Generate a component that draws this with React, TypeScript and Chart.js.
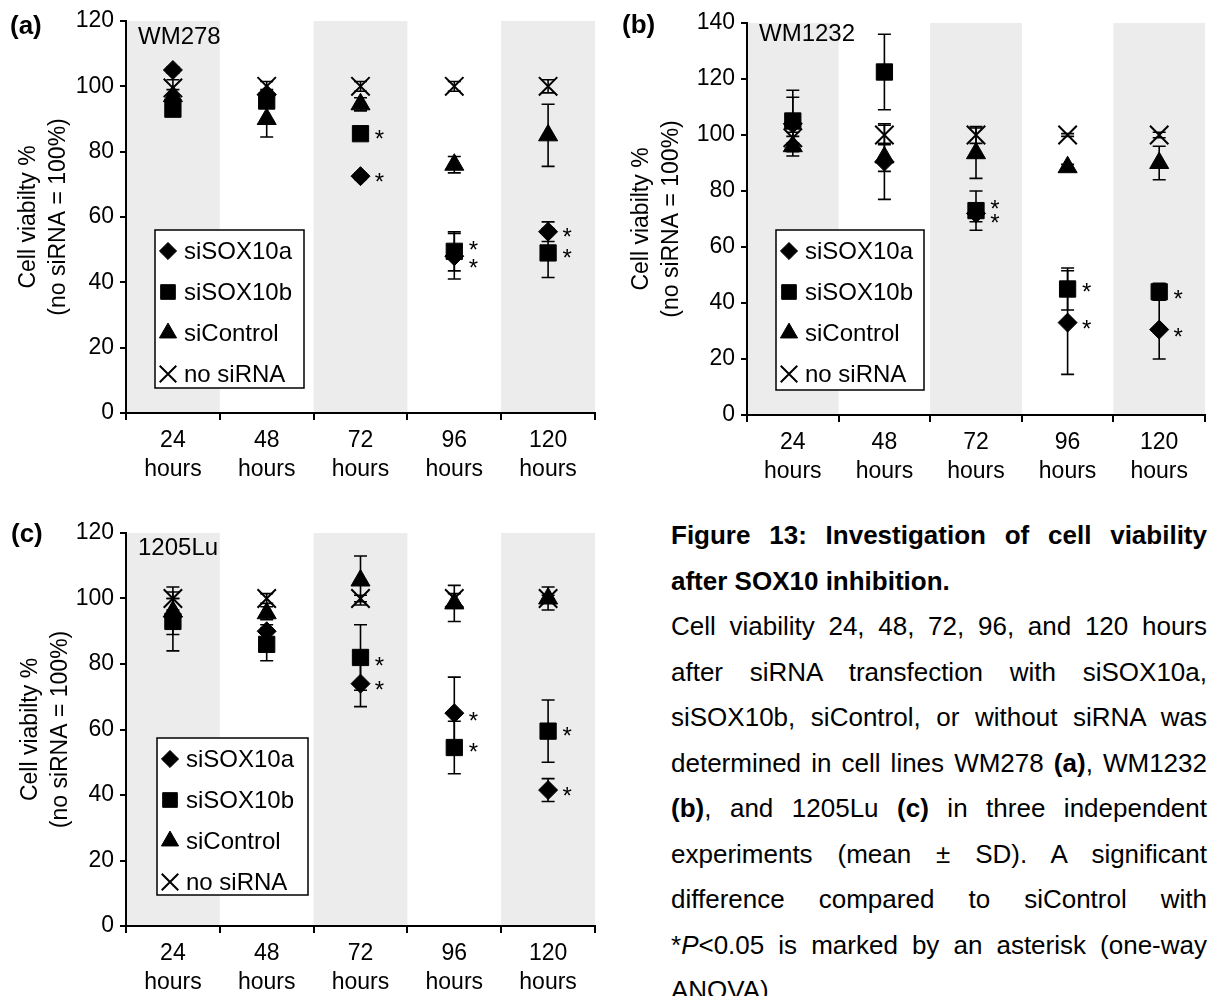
import React, { useEffect, useRef } from 'react';
import { Chart, registerables } from 'chart.js';
import { drawPoint } from 'chart.js/helpers';

Chart.register(...registerables);

const FONT = "'Liberation Sans', Arial, Helvetica, sans-serif";

// ---------- data ----------
const timeLabels = [['24', 'hours'], ['48', 'hours'], ['72', 'hours'], ['96', 'hours'], ['120', 'hours']];
const seriesNames = ['siSOX10a', 'siSOX10b', 'siControl', 'no siRNA'];
const yTitle = ['Cell viabilty %', '(no siRNA = 100%)'];

// (a) WM278
const wm278SiSOX10a = [105, 97.5, 72.5, 48, 55.5];
const wm278SiSOX10aSD = [1, 1.5, 1, 7, 3];
const wm278SiSOX10b = [93, 95.5, 85.5, 49.5, 49];
const wm278SiSOX10bSD = [1.5, 2, 1, 6, 7.5];
const wm278SiControl = [97, 90, 94.5, 76, 85];
const wm278SiControlSD = [2, 5.5, 2, 2.5, 9.5];
const wm278NoSiRNA = [99.5, 100, 100, 100, 100];
const wm278NoSiRNASD = [2.5, 1.5, 1.5, 1.5, 2];
const wm278StarA = [null, null, 72.5, 46, 55.5];
const wm278StarB = [null, null, 85.5, 51.5, 49];

// (b) WM1232
const wm1232SiSOX10a = [104, 90.5, 72, 33, 30.5];
const wm1232SiSOX10aSD = [9.5, 13.5, 3, 18.5, 10.5];
const wm1232SiSOX10b = [105, 122.5, 73, 45, 44];
const wm1232SiSOX10bSD = [11, 13.5, 7, 7.5, 3];
const wm1232SiControl = [96, 92, 93.5, 88.5, 90];
const wm1232SiControlSD = [3.5, 5, 9, 1, 6];
const wm1232NoSiRNA = [99, 100, 100, 100, 100];
const wm1232NoSiRNASD = [2, 3.5, 3, 0.5, 1];
const wm1232StarA = [null, null, 70.7, 32.7, 29.7];
const wm1232StarB = [null, null, 75.5, 45.8, 43.5];

// (c) 1205Lu
const lu1205SiSOX10a = [94.5, 90, 74, 65, 41.5];
const lu1205SiSOX10aSD = [5.5, 2, 7, 11, 3.5];
const lu1205SiSOX10b = [93, 86, 82, 54.5, 59.5];
const lu1205SiSOX10bSD = [9, 5, 10, 8, 9.5];
const lu1205SiControl = [96, 95.5, 105.5, 98.5, 100];
const lu1205SiControlSD = [4, 2, 7.5, 5.5, 3.5];
const lu1205NoSiRNA = [100, 100, 100, 100, 100];
const lu1205NoSiRNASD = [3.5, 1.5, 1, 1.5, 1];
const lu1205StarA = [null, null, 73.6, 64.4, 41.5];
const lu1205StarB = [null, null, 81.2, 54.7, 59.6];

// ---------- styles ----------
const BAND = '#ececec';
const CAP = 6.5;
const markerStyles = [
  { pointStyle: 'rectRot', radius: 9.5, borderWidth: 1 },
  { pointStyle: 'rect', radius: 11.5, borderWidth: 1 },
  { pointStyle: 'triangle', radius: 11, borderWidth: 1 },
  { pointStyle: 'crossRot', radius: 13, borderWidth: 2 },
];

type PanelCfg = {
  left: number; top: number; width: number; height: number;
  yWidth: number; xHeight: number; padTop: number; padRight: number;
  yMax: number; titlePad: number; cellLine: string; cellDy: number;
  legend: { dx: number; gap: number; w: number; h: number };
  series: number[][]; sds: number[][]; stars: (number | null)[][];
};

const panelA: PanelCfg = {
  left: 0, top: 0, width: 610, height: 490, yWidth: 126, xHeight: 77, padTop: 21, padRight: 7,
  yMax: 120, titlePad: 14, cellLine: 'WM278', cellDy: 16,
  legend: { dx: 29, gap: 25, w: 149, h: 158 },
  series: [wm278SiSOX10a, wm278SiSOX10b, wm278SiControl, wm278NoSiRNA],
  sds: [wm278SiSOX10aSD, wm278SiSOX10bSD, wm278SiControlSD, wm278NoSiRNASD],
  stars: [wm278StarA, wm278StarB],
};
const panelB: PanelCfg = {
  left: 610, top: 0, width: 610, height: 490, yWidth: 137, xHeight: 75, padTop: 23, padRight: 1,
  yMax: 140, titlePad: 17, cellLine: 'WM1232', cellDy: 11,
  legend: { dx: 29, gap: 25, w: 148, h: 160 },
  series: [wm1232SiSOX10a, wm1232SiSOX10b, wm1232SiControl, wm1232NoSiRNA],
  sds: [wm1232SiSOX10aSD, wm1232SiSOX10bSD, wm1232SiControlSD, wm1232NoSiRNASD],
  stars: [wm1232StarA, wm1232StarB],
};
const panelC: PanelCfg = {
  left: 0, top: 490, width: 610, height: 506, yWidth: 126, xHeight: 70, padTop: 43, padRight: 7,
  yMax: 120, titlePad: 16, cellLine: '1205Lu', cellDy: 15,
  legend: { dx: 31, gap: 31, w: 151, h: 157 },
  series: [lu1205SiSOX10a, lu1205SiSOX10b, lu1205SiControl, lu1205NoSiRNA],
  sds: [lu1205SiSOX10aSD, lu1205SiSOX10bSD, lu1205SiControlSD, lu1205NoSiRNASD],
  stars: [lu1205StarA, lu1205StarB],
};

function makePlugin(cfg: PanelCfg) {
  return {
    id: 'figure',
    beforeDraw(chart: any) {
      const { ctx, chartArea: ca, scales } = chart;
      const x = scales.x;
      const half = (x.getPixelForValue(1) - x.getPixelForValue(0)) / 2;
      ctx.save();
      ctx.fillStyle = BAND;
      for (let i = 0; i < timeLabels.length; i += 2) {
        const c = x.getPixelForValue(i);
        const l = Math.max(ca.left, c - half);
        const r = Math.min(ca.right, c + half);
        ctx.fillRect(l, ca.top, r - l, ca.bottom - ca.top);
      }
      ctx.restore();
    },
    beforeDatasetsDraw(chart: any) {
      const { ctx, scales } = chart;
      const x = scales.x, y = scales.y;
      ctx.save();
      ctx.strokeStyle = '#000';
      ctx.lineWidth = 1.6;
      cfg.series.forEach((vals, i) => {
        vals.forEach((v, j) => {
          const sd = cfg.sds[i][j];
          if (!sd) return;
          const px = x.getPixelForValue(j);
          const y1 = y.getPixelForValue(v - sd);
          const y2 = y.getPixelForValue(v + sd);
          ctx.beginPath();
          ctx.moveTo(px, y1); ctx.lineTo(px, y2);
          ctx.moveTo(px - CAP, y1); ctx.lineTo(px + CAP, y1);
          ctx.moveTo(px - CAP, y2); ctx.lineTo(px + CAP, y2);
          ctx.stroke();
        });
      });
      ctx.restore();
    },
    afterDatasetsDraw(chart: any) {
      const { ctx, chartArea: ca, scales } = chart;
      const x = scales.x, y = scales.y;
      ctx.save();
      // asterisks
      ctx.fillStyle = '#000';
      ctx.font = `24px ${FONT}`;
      ctx.textAlign = 'center';
      ctx.textBaseline = 'alphabetic';
      cfg.stars.forEach((arr) => {
        arr.forEach((v, j) => {
          if (v == null) return;
          ctx.fillText('*', x.getPixelForValue(j) + 19, y.getPixelForValue(v) + 13.5);
        });
      });
      // cell line label
      ctx.textAlign = 'left';
      ctx.textBaseline = 'middle';
      ctx.font = `24px ${FONT}`;
      ctx.fillText(cfg.cellLine, ca.left + 12, ca.top + cfg.cellDy);
      // legend
      const lg = cfg.legend;
      const bx = ca.left + lg.dx;
      const by = ca.bottom - lg.gap - lg.h;
      ctx.fillStyle = '#fff';
      ctx.fillRect(bx, by, lg.w, lg.h);
      ctx.strokeStyle = '#000';
      ctx.lineWidth = 1.5;
      ctx.strokeRect(bx, by, lg.w, lg.h);
      chart.data.datasets.forEach((ds: any, i: number) => {
        const cy = by + 21 + i * 41;
        const ms = markerStyles[i];
        ctx.fillStyle = '#000';
        ctx.strokeStyle = '#000';
        ctx.lineWidth = ms.borderWidth;
        drawPoint(ctx, { pointStyle: ms.pointStyle, radius: ms.radius * 0.9, rotation: 0, borderWidth: ms.borderWidth } as any, bx + 13, cy);
        ctx.fillStyle = '#000';
        ctx.font = `24px ${FONT}`;
        ctx.textAlign = 'left';
        ctx.textBaseline = 'middle';
        ctx.fillText(ds.label, bx + 29, cy + 1);
      });
      ctx.restore();
    },
  };
}

function Panel({ cfg }: { cfg: PanelCfg }) {
  const ref = useRef<HTMLCanvasElement | null>(null);
  useEffect(() => {
    if (!ref.current) return;
    const tickFont = { family: FONT, size: 23, lineHeight: 1.27 };
    const chart = new Chart(ref.current, {
      type: 'line',
      data: {
        labels: timeLabels,
        datasets: cfg.series.map((vals, i) => ({
          label: seriesNames[i],
          data: vals,
          showLine: false,
          pointStyle: markerStyles[i].pointStyle as any,
          pointRadius: markerStyles[i].radius,
          pointHoverRadius: markerStyles[i].radius,
          pointBorderWidth: markerStyles[i].borderWidth,
          pointBackgroundColor: '#000',
          pointBorderColor: '#000',
          borderColor: '#000',
          backgroundColor: '#000',
          order: 4 - i,
        })),
      },
      options: {
        animation: false,
        responsive: false,
        devicePixelRatio: 1,
        events: [],
        layout: { padding: { left: 0, top: cfg.padTop, right: cfg.padRight, bottom: 0 } },
        plugins: { legend: { display: false }, tooltip: { enabled: false } },
        scales: {
          x: {
            type: 'category',
            offset: true,
            grid: { offset: true, drawOnChartArea: false, drawTicks: true, tickLength: 7, tickWidth: 2, tickColor: '#000', color: '#000', lineWidth: 2 },
            border: { display: true, color: '#000', width: 2 },
            ticks: { color: '#000', padding: 6, autoSkip: false, maxRotation: 0, minRotation: 0, font: tickFont },
            afterFit: (s: any) => { s.height = cfg.xHeight; },
          },
          y: {
            min: 0,
            max: cfg.yMax,
            ticks: { stepSize: 20, color: '#000', padding: 6, font: { family: FONT, size: 23 } },
            grid: { drawOnChartArea: false, drawTicks: true, tickLength: 6, tickWidth: 2, tickColor: '#000', color: '#000', lineWidth: 2 },
            border: { display: true, color: '#000', width: 2 },
            title: {
              display: true,
              text: yTitle,
              color: '#000',
              font: { family: FONT, size: 23, lineHeight: 1.3 },
              padding: { top: cfg.titlePad, bottom: 0 },
            },
            afterFit: (s: any) => { s.width = cfg.yWidth; },
          },
        },
      } as any,
      plugins: [makePlugin(cfg)],
    });
    return () => chart.destroy();
  }, [cfg]);
  return (
    <canvas
      ref={ref}
      width={cfg.width}
      height={cfg.height}
      style={{ position: 'absolute', left: cfg.left, top: cfg.top, width: cfg.width, height: cfg.height }}
    />
  );
}

const captionLeft = 671;
const captionWidth = 536;
const captionTop = 535;
const captionStep = 45.5;

type Line = { content: React.ReactNode; justify: boolean; bold?: boolean };
const captionLines: Line[] = [
  { content: 'Figure 13: Investigation of cell viability', justify: true, bold: true },
  { content: 'after SOX10 inhibition.', justify: false, bold: true },
  { content: 'Cell viability 24, 48, 72, 96, and 120 hours', justify: true },
  { content: 'after siRNA transfection with siSOX10a,', justify: true },
  { content: 'siSOX10b, siControl, or without siRNA was', justify: true },
  { content: <>determined in cell lines WM278 <b>(a)</b>, WM1232</>, justify: true },
  { content: <><b>(b)</b>, and 1205Lu <b>(c)</b> in three independent</>, justify: true },
  { content: 'experiments (mean ± SD). A significant', justify: true },
  { content: 'difference compared to siControl with', justify: true },
  { content: <>*<i>P</i>&lt;0.05 is marked by an asterisk (one-way</>, justify: true },
  { content: 'ANOVA).', justify: false },
];

const panelLabels = [
  { text: '(a)', left: 10, cy: 25 },
  { text: '(b)', left: 622, cy: 24 },
  { text: '(c)', left: 11, cy: 533 },
];

export default function App() {
  return (
    <div style={{ position: 'absolute', left: 0, top: 0, width: 1220, height: 996, overflow: 'hidden', background: '#fff', fontFamily: FONT, color: '#000' }}>
      <Panel cfg={panelA} />
      <Panel cfg={panelB} />
      <Panel cfg={panelC} />
      {panelLabels.map((p) => (
        <div key={p.text} style={{ position: 'absolute', left: p.left, top: p.cy - 15, height: 30, lineHeight: '30px', fontSize: 26, fontWeight: 'bold', whiteSpace: 'nowrap' }}>
          {p.text}
        </div>
      ))}
      {captionLines.map((ln, k) => (
        <div
          key={k}
          style={{
            position: 'absolute',
            left: captionLeft,
            top: captionTop + k * captionStep - 15,
            width: captionWidth,
            height: 30,
            lineHeight: '30px',
            fontSize: 26,
            fontWeight: ln.bold ? 'bold' : 'normal',
            textAlign: ln.justify ? 'justify' : 'left',
            textAlignLast: ln.justify ? 'justify' : 'left',
            whiteSpace: 'nowrap',
          } as React.CSSProperties}
        >
          {ln.content}
        </div>
      ))}
    </div>
  );
}
